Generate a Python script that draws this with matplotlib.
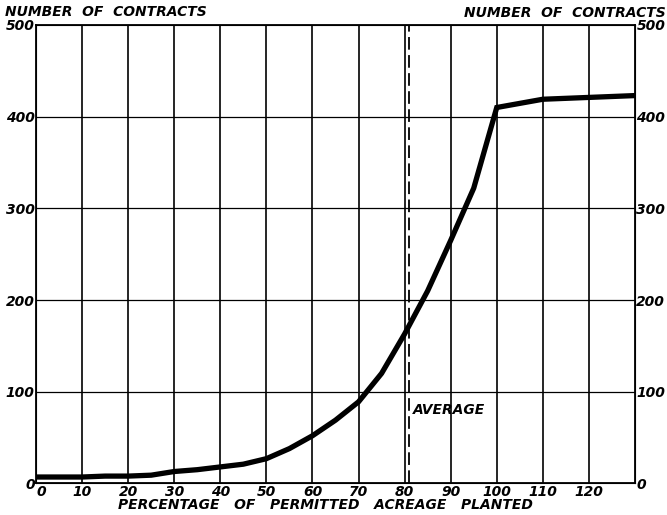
import numpy as np
import matplotlib.pyplot as plt

# percentage of permitted acreage planted vs number of contracts
pct = [0, 5, 10, 15, 20, 25, 30, 35, 40, 45, 50, 55, 60, 65, 70, 75, 80,
       85, 90, 95, 100, 110, 120, 130]
contracts = [7, 7, 7, 8, 8, 9, 13, 15, 18, 21, 27, 38, 52, 69, 89, 120, 163,
             210, 265, 322, 410, 419, 421, 423]
average = 81
x_ticks = [0, 10, 20, 30, 40, 50, 60, 70, 80, 90, 100, 110, 120]
y_ticks = [0, 100, 200, 300, 400, 500]

font = dict(family='DejaVu Sans', weight='bold', style='italic', size=10)

fig = plt.figure(figsize=(6.67, 5.15), dpi=100)
ax = fig.add_axes([0.054, 0.0613, 0.898, 0.8902])

ax.plot(pct, contracts, color='black', lw=3.8, solid_joinstyle='miter', zorder=5)
ax.axvline(average, color='black', lw=1.3, ls=(0, (7, 3)), zorder=4)
ax.text(average + 0.7, 88, 'AVERAGE', ha='left', va='top', **font)

ax.set_xlim(0, 130)
ax.set_ylim(0, 500)
for x in x_ticks[1:]:
    ax.axvline(x, color='black', lw=1.2, zorder=1)
for y in y_ticks[1:-1]:
    ax.axhline(y, color='black', lw=0.9, zorder=1)
for s in ax.spines.values():
    s.set_linewidth(1.3)

ax.set_xticks(x_ticks)
ax.set_xticklabels([str(v) for v in x_ticks], **font)
ax.get_xticklabels()[0].set_ha('left')
ax.set_yticks(y_ticks)
ax.set_yticklabels([str(v) for v in y_ticks], **font)
ax.tick_params(length=0, pad=1)
ax.set_xlabel('PERCENTAGE   OF   PERMITTED   ACREAGE   PLANTED', **font)
ax.xaxis.set_label_coords(0.484, -0.032)

ax2 = ax.twinx()
ax2.set_ylim(0, 500)
ax2.set_yticks(y_ticks)
ax2.set_yticklabels([str(v) for v in y_ticks], **font)
ax2.tick_params(length=0, pad=1)

fig.text(0.008, 0.977, 'NUMBER  OF  CONTRACTS', ha='left', va='center', **font)
fig.text(0.998, 0.975, 'NUMBER  OF  CONTRACTS', ha='right', va='center', **font)

fig.savefig('out.png', dpi=100)
